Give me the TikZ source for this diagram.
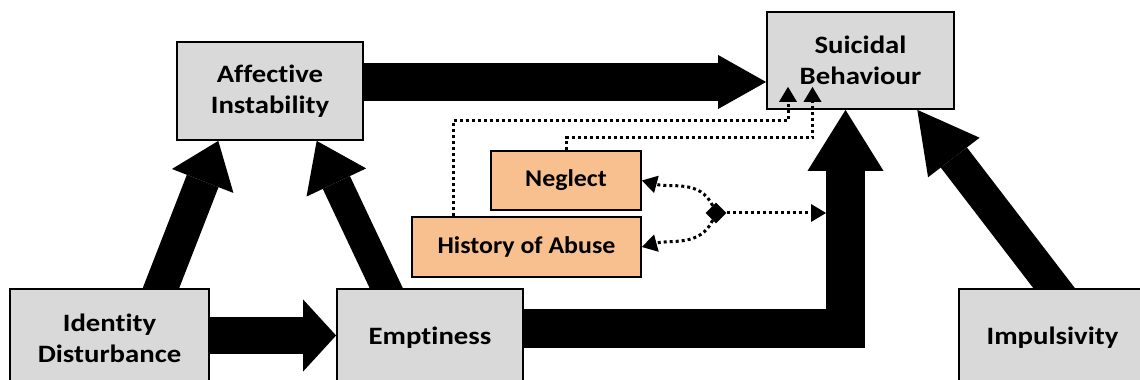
\documentclass[tikz,border=0pt]{standalone}
\usepackage{fontspec}
\setmainfont{Carlito}[Ligatures=NoCommon]
\newfontfamily\gfont{Carlito}[Ligatures=NoCommon, FakeStretch=1.15]
\newfontfamily\ofont{Carlito}[Ligatures=NoCommon, FakeStretch=1.08]
\usetikzlibrary{arrows.meta,calc,shapes.geometric}
\definecolor{boxgray}{HTML}{D9D9D9}
\definecolor{boxorange}{HTML}{F8C08F}
\pgfdeclarelayer{bg}
\pgfsetlayers{bg,main}
\begin{document}
\begin{tikzpicture}[x=1pt,y=1pt,
  gbox/.style={draw=black, line width=1.8pt, fill=boxgray, align=center, inner sep=0pt,
    font=\gfont\bfseries\fontsize{25}{31}\selectfont},
  obox/.style={draw=black, line width=1.8pt, fill=boxorange, align=center, inner sep=0pt,
    font=\ofont\bfseries\fontsize{24}{28}\selectfont},
  bigarrow/.style n args={3}{line width=#1, -{Triangle[width=#2, length=#3, line width=0pt]}},
  dots/.style={line width=3pt, dash pattern=on 3pt off 3pt,
    -{Triangle[length=15pt, width=18pt, line width=0pt]}}]
\useasboundingbox (0,0) rectangle (1140,380);
\clip (0,0) rectangle (1140,380);
% nodes
\node[gbox, minimum width=186pt, minimum height=98pt] (aff) at (270,289) {Affective\\Instability};
\node[gbox, minimum width=187pt, minimum height=97pt] (sui) at (860.5,319.5) {Suicidal\\Behaviour};
\node[gbox, minimum width=199pt, minimum height=98pt] (ident) at (109.5,42) {Identity\\Disturbance};
\node[gbox, minimum width=186pt, minimum height=98pt] (empt) at (430,42) {Emptiness};
\node[gbox, minimum width=187pt, minimum height=98pt] (impul) at (1052.5,42) {Impulsivity};
\node[obox, minimum width=150pt, minimum height=59pt] (neg) at (566,199.5) {Neglect};
\node[obox, minimum width=229pt, minimum height=60pt] (abuse) at (526.5,133) {History of Abuse};
\node[diamond, fill=black, inner sep=0pt, minimum width=21pt, minimum height=21pt] (hub) at (716,167) {};
\coordinate (vleft) at (826,51);
% big arrows
\begin{pgfonlayer}{bg}
\draw[bigarrow={38pt}{54pt}{48pt}] ([xshift=-2pt,yshift=9pt]aff.east) -- ([yshift=-21.5pt]sui.west);
\draw[bigarrow={37pt}{72pt}{33pt}] ([xshift=-2pt,yshift=2.5pt]ident.east) -- ([yshift=2.5pt]empt.west);
\draw[bigarrow={39pt}{76pt}{61pt}] ([xshift=-2pt,yshift=9pt]empt.east) -| ([xshift=-15pt]sui.south);
\draw[bigarrow={34pt}{66pt}{43pt}] ([xshift=46.8pt,yshift=-12pt]ident.north) -- ([xshift=-51.7pt]aff.south);
\draw[bigarrow={30pt}{66pt}{46pt}] ([xshift=-38.1pt,yshift=-12pt]empt.north) -- ([xshift=46.7pt]aff.south);
\draw[bigarrow={33pt}{65pt}{60pt}] ([xshift=10.8pt,yshift=-12pt]impul.north) -- ([xshift=56.8pt]sui.south);
\end{pgfonlayer}
% dotted connectors
\draw[dots] ([xshift=-73.5pt]abuse.north) |- ([xshift=-72.5pt,yshift=-11pt]sui.south) -- ([xshift=-72.5pt,yshift=23pt]sui.south);
\draw[dots] (neg.north) |- ([xshift=-48pt,yshift=-28pt]sui.south) -- ([xshift=-48pt,yshift=23pt]sui.south);
\draw[dots] (hub) to[out=115,in=-15] (neg.east);
\draw[dots] (hub) to[out=-115,in=15] (abuse.east);
\draw[dots] (hub) -- (hub -| vleft);
\end{tikzpicture}
\end{document}
